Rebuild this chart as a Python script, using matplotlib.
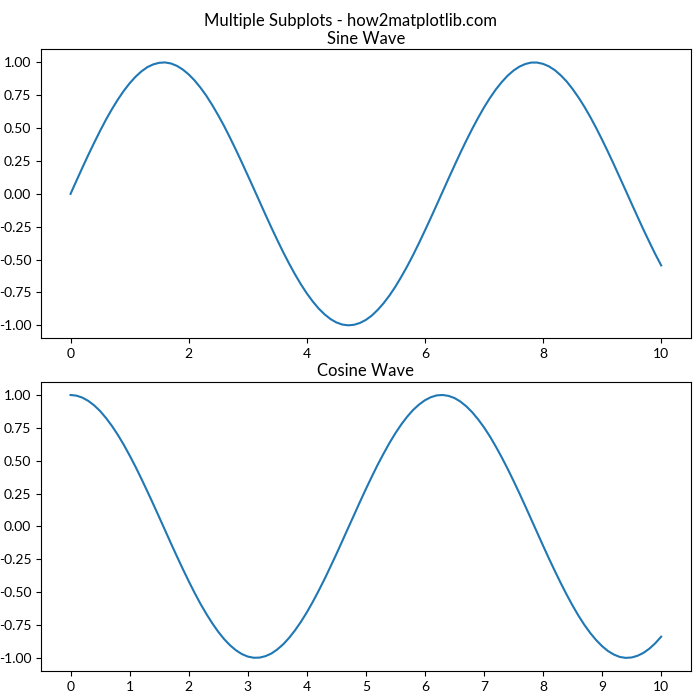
import matplotlib
matplotlib.use("Agg")
import matplotlib.pyplot as plt

plt.rcParams['font.family'] = ['Lato', 'DejaVu Sans']
plt.rcParams['axes.unicode_minus'] = False

# valores (x cada 0.1)
x = [i / 10 for i in range(101)]

seno = [0.000, 0.100, 0.199, 0.296, 0.389, 0.479, 0.565, 0.644, 0.717, 0.783,
        0.841, 0.891, 0.932, 0.964, 0.985, 0.997, 1.000, 0.992, 0.974, 0.946,
        0.909, 0.863, 0.808, 0.746, 0.675, 0.598, 0.516, 0.427, 0.335, 0.239,
        0.141, 0.042, -0.058, -0.158, -0.256, -0.351, -0.443, -0.530, -0.612, -0.688,
        -0.757, -0.818, -0.872, -0.916, -0.952, -0.978, -0.994, -1.000, -0.996, -0.982,
        -0.959, -0.926, -0.883, -0.832, -0.773, -0.706, -0.631, -0.551, -0.465, -0.374,
        -0.279, -0.182, -0.083, 0.017, 0.117, 0.215, 0.312, 0.405, 0.494, 0.578,
        0.657, 0.729, 0.794, 0.850, 0.899, 0.938, 0.968, 0.988, 0.999, 0.999,
        0.989, 0.970, 0.941, 0.902, 0.855, 0.798, 0.734, 0.663, 0.585, 0.501,
        0.412, 0.319, 0.223, 0.124, 0.025, -0.075, -0.174, -0.272, -0.366, -0.458,
        -0.544]

coseno = [1.000, 0.995, 0.980, 0.955, 0.921, 0.878, 0.825, 0.765, 0.697, 0.622,
          0.540, 0.454, 0.362, 0.267, 0.170, 0.071, -0.029, -0.129, -0.227, -0.323,
          -0.416, -0.505, -0.589, -0.666, -0.737, -0.801, -0.857, -0.904, -0.942, -0.971,
          -0.990, -0.999, -0.998, -0.987, -0.967, -0.936, -0.897, -0.848, -0.791, -0.726,
          -0.654, -0.575, -0.490, -0.401, -0.307, -0.211, -0.112, -0.012, 0.087, 0.187,
          0.284, 0.378, 0.469, 0.554, 0.635, 0.709, 0.776, 0.835, 0.886, 0.927,
          0.960, 0.983, 0.997, 1.000, 0.993, 0.977, 0.950, 0.914, 0.869, 0.815,
          0.754, 0.685, 0.608, 0.526, 0.439, 0.347, 0.252, 0.154, 0.054, -0.046,
          -0.146, -0.244, -0.339, -0.431, -0.519, -0.602, -0.679, -0.749, -0.811, -0.865,
          -0.911, -0.948, -0.975, -0.993, -1.000, -0.997, -0.984, -0.962, -0.930, -0.889,
          -0.839]

ticks_abajo = [0, 1, 2, 3, 4, 5, 6, 7, 8, 9, 10]

fig, (ax1, ax2) = plt.subplots(2, 1, figsize=(7, 7), dpi=100)
fig.suptitle("Multiple Subplots - how2matplotlib.com", y=0.982)

ax1.plot(x, seno)
ax1.set_title("Sine Wave", pad=4)

ax2.plot(x, coseno)
ax2.set_title("Cosine Wave", pad=4)
ax2.set_xticks(ticks_abajo)

plt.subplots_adjust(left=0.0586, right=0.9867, top=0.9296, bottom=0.0414, hspace=0.15)
plt.savefig("out.png")
